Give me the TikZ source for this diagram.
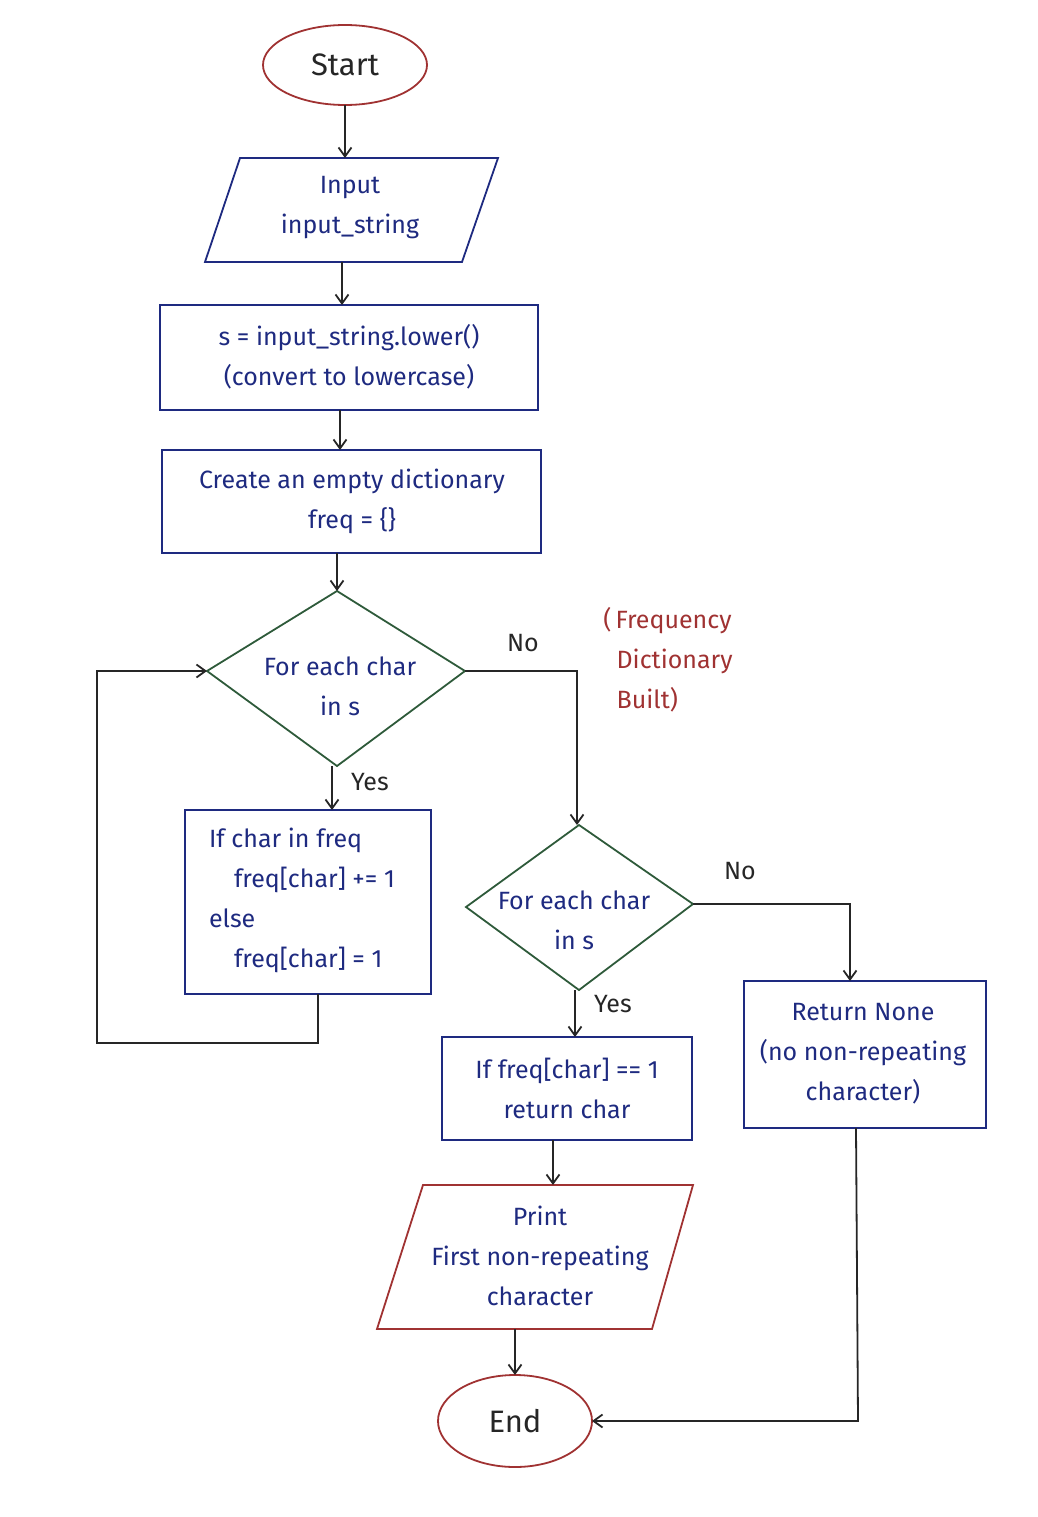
\documentclass[tikz,border=0pt]{standalone}
\usepackage{fontspec}
\setmainfont{Fira Sans}
\usetikzlibrary{shapes.geometric,arrows.meta}
\definecolor{dred}{HTML}{A03232}
\definecolor{dblue}{HTML}{1E2A80}
\definecolor{dgreen}{HTML}{2E5A3A}
\begin{document}
\begin{tikzpicture}[x=1pt,y=-1pt,
  txt/.style={font=\fontsize{25}{40}\selectfont, text=dblue, align=center},
  box/.style={draw=dblue, line width=1.8pt},
  term/.style={draw=dred, line width=1.8pt},
  dia/.style={draw=dgreen, line width=1.8pt},
  arr/.style={-{Straight Barb[length=9pt,width=13pt]}, line width=1.8pt, black!85},
  lab/.style={font=\fontsize{25}{28}\selectfont, text=black!85}]
\useasboundingbox (0,0) rectangle (1037,1517);
% Start
\draw[term] (345,65) ellipse (82 and 40);
\node[txt, text=black!85, font=\fontsize{31}{36}\selectfont] (start) at (345,65) {Start};
\coordinate (startb) at (345,105);
% input
\draw[box] (240,158) -- (498,158) -- (462,262) -- (205,262) -- cycle;
\node[txt] (inp) at (350,208) {Input\\input\_string};
\coordinate (inpt) at (345,158); \coordinate (inpb) at (342,262);
% box1
\draw[box] (160,305) rectangle (538,410);
\node[txt] (b1) at (349,357) {s = input\_string.lower()\\(convert to lowercase)};
\coordinate (b1t) at (342,305); \coordinate (b1b) at (340,410);
% box2
\draw[box] (162,450) rectangle (541,553);
\node[txt] (b2) at (352,501) {Create an empty dictionary\\freq = \{\}};
\coordinate (b2t) at (340,450); \coordinate (b2b) at (337,553);
% diamond 1
\draw[dia] (337,591) -- (465,671) -- (337,766) -- (207,671) -- cycle;
\node[txt] (d1) at (340,686) {For each char\\in s};
\coordinate (d1t) at (337,591); \coordinate (d1b) at (332,766);
\coordinate (d1l) at (207,671); \coordinate (d1r) at (465,671);
% box3
\draw[box] (185,810) rectangle (431,994);
\node[txt, align=left] (b3) at (302,900) {If char in freq\\\quad freq[char] += 1\\else\\\quad freq[char] = 1};
\coordinate (b3t) at (332,810); \coordinate (b3b) at (318,994);
% diamond 2
\draw[dia] (579,825) -- (693,904) -- (579,990) -- (466,907) -- cycle;
\node[txt] (d2) at (574,920) {For each char\\in s};
\coordinate (d2t) at (577,825); \coordinate (d2b) at (575,990); \coordinate (d2r) at (693,904);
% box4
\draw[box] (442,1037) rectangle (692,1140);
\node[txt] (b4) at (567,1088) {If freq[char] == 1\\return char};
\coordinate (b4t) at (575,1037); \coordinate (b4b) at (553,1140);
% return none
\draw[box] (744,981) rectangle (986,1128);
\node[txt] (rn) at (863,1054) {Return None\\(no non-repeating\\character)};
\coordinate (rnt) at (850,981); \coordinate (rnb) at (856,1128);
% print
\draw[term] (423,1185) -- (693,1185) -- (652,1329) -- (377,1329) -- cycle;
\node[txt] (pr) at (540,1256) {Print\\First non-repeating\\character};
\coordinate (prt) at (553,1185); \coordinate (prb) at (515,1329);
% End
\draw[term] (515,1421) ellipse (77 and 46);
\node[txt, text=black!85, font=\fontsize{31}{36}\selectfont] (end) at (515,1421) {End};
\coordinate (endt) at (515,1375); \coordinate (endr) at (592,1421);
% note
\node[txt, text=dred, align=left] (note) at (668,660) {(\,Frequency\\\ \ Dictionary\\\ \ Built)};
% arrows
\draw[arr] (startb) -- (inpt);
\draw[arr] (inpb) -- (b1t);
\draw[arr] (b1b) -- (b2t);
\draw[arr] (b2b) -- (d1t);
\draw[arr] (d1b) -- (b3t);
\node[lab] (yes1) at (370,782) {Yes};
\draw[arr] (b3b) -- (318,1043) -- (97,1043) -- (97,671) -- (d1l);
\draw[arr] (d1r) -- (577,671) -- (d2t);
\node[lab] (no1) at (523,643) {No};
\draw[arr] (d2b) -- (b4t);
\node[lab] (yes2) at (613,1004) {Yes};
\draw[arr] (d2r) -- (850,904) -- (rnt);
\node[lab] (no2) at (740,871) {No};
\draw[arr] (b4b) -- (prt);
\draw[arr] (prb) -- (endt);
\draw[arr] (rnb) -- (858,1421) -- (endr);
\end{tikzpicture}
\end{document}
